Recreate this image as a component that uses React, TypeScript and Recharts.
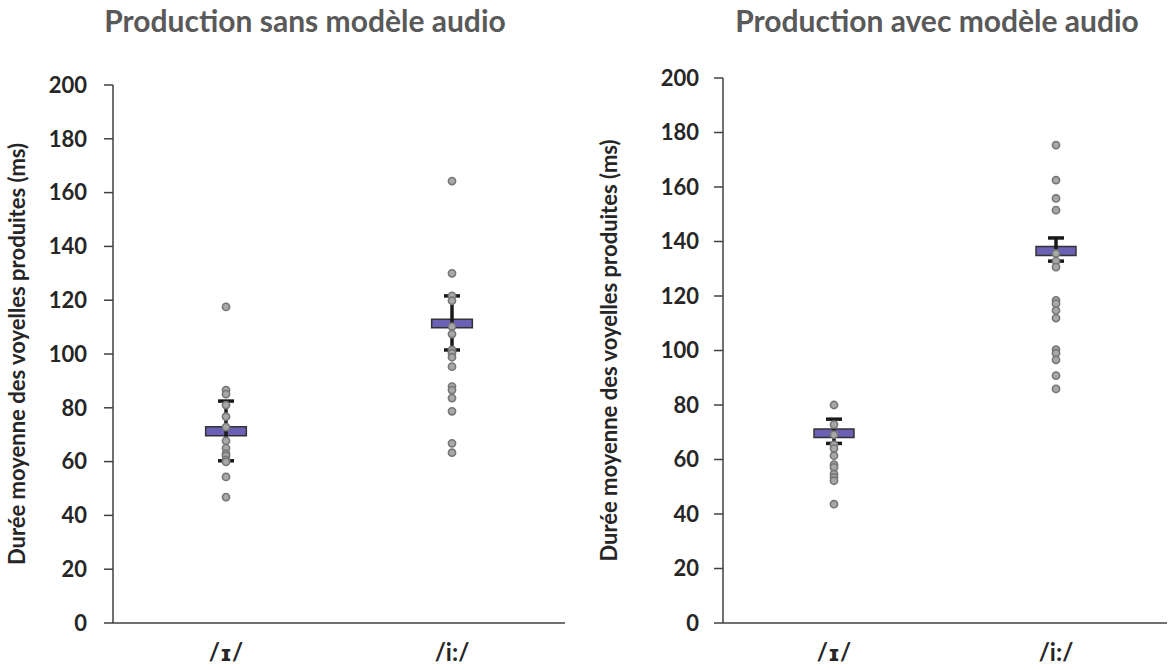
import React from 'react';
import {
  ComposedChart,
  Scatter,
  ErrorBar,
  ReferenceArea,
  XAxis,
  YAxis,
  Label,
} from 'recharts';

// categories and tick labels
const categories = ['/ɪ/', '/i:/'];
const yTicks = [0, 20, 40, 60, 80, 100, 120, 140, 160, 180, 200];

// "Production sans modèle audio" – individual speakers
const sansShortPoints = [117.5, 86.6, 85.1, 81, 76.7, 72.8, 67.7, 65, 63, 62.2, 60.6, 59.9, 54.3, 46.8];
const sansLongPoints = [164.3, 130, 121.6, 119.8, 110.2, 107.4, 101.5, 100.3, 98.8, 95.3, 87.9, 86.6, 83.6, 78.7, 66.8, 63.3];
// summary: mean, box low/high, whisker low/high (per category)
const sansMeans = [71.3, 111.3];
const sansBoxLow = [69.6, 109.8];
const sansBoxHigh = [73, 112.9];
const sansWhiskerLow = [60.3, 101.5];
const sansWhiskerHigh = [82.5, 121.6];

// "Production avec modèle audio"
const avecShortPoints = [80.0, 72.8, 69.1, 65.4, 64.0, 61.4, 58.1, 57.1, 54.7, 53.4, 52.2, 43.6];
const avecLongPoints = [175.4, 162.5, 155.8, 151.5, 135.6, 132.8, 130.6, 118.4, 117.2, 114.7, 111.9, 100.3, 99, 96.6, 90.8, 85.9];
const avecMeans = [69.7, 136.5];
const avecBoxLow = [68.1, 134.9];
const avecBoxHigh = [71.2, 138.2];
const avecWhiskerLow = [65.9, 132.8];
const avecWhiskerHigh = [74.8, 141.3];

const BOX_HALF = 0.09;
const FONT = 'Lato, "Open Sans", sans-serif';
const TEXT = '#262626';

const toPoints = (vals: number[], idx: number) => vals.map((v) => ({ x: idx + 0.5, y: v }));

const Dot = (props: any) => {
  const { cx, cy } = props;
  if (cx == null || cy == null) return <g />;
  return <circle cx={cx} cy={cy} r={3.6} fill="#a8a8a8" stroke="#767676" strokeWidth={1.6} />;
};

// x tick: the small-capital ɪ is missing in Lato, so draw it in DejaVu Sans
const CatTick = (props: any) => {
  const { x, y, payload } = props;
  const label = categories[Math.floor(payload.value)];
  return (
    <text x={x} y={y} dy={38} textAnchor="middle" fill={TEXT} fontSize={24} fontWeight={700} fontFamily={FONT}>
      {label.split('').map((ch: string, i: number) =>
        ch === 'ɪ' ? (
          <tspan key={i} fontFamily='"DejaVu Sans"' fontSize={22}>{ch}</tspan>
        ) : (
          <tspan key={i}>{ch}</tspan>
        )
      )}
    </text>
  );
};

interface PanelProps {
  width: number;
  height: number;
  margin: { top: number; right: number; left: number; bottom: number };
  yAxisWidth: number;
  tickMargin: number;
  shortPts: number[];
  longPts: number[];
  means: number[];
  boxLow: number[];
  boxHigh: number[];
  wLow: number[];
  wHigh: number[];
  labelDx: number;
}

const Panel: React.FC<PanelProps> = (p) => {
  const summary = p.means.map((m, i) => ({
    x: i + 0.5,
    y: m,
    err: [m - p.wLow[i], p.wHigh[i] - m],
  }));
  return (
    <ComposedChart width={p.width} height={p.height} margin={p.margin}>
      <XAxis
        type="number"
        dataKey="x"
        domain={[0, 2]}
        ticks={[0.5, 1.5]}
        tickLine={false}
        tickSize={0}
        tickMargin={0}
        height={47}
        stroke="#404040"
        strokeWidth={1.5}
        tick={<CatTick />}
        allowDataOverflow
      />
      <YAxis
        type="number"
        dataKey="y"
        domain={[0, 200]}
        ticks={yTicks}
        width={p.yAxisWidth}
        tickSize={9}
        tickMargin={p.tickMargin}
        stroke="#404040"
        strokeWidth={1.5}
        tick={{ fill: TEXT, fontSize: 22, fontWeight: 700, fontFamily: FONT }}
      >
        <Label
          value="Durée moyenne des voyelles produites (ms)"
          angle={-90}
          position="insideLeft"
          dx={p.labelDx}
          style={{ textAnchor: 'middle', fill: TEXT, fontSize: 22, fontWeight: 700, fontFamily: FONT }}
        />
      </YAxis>
      <Scatter data={summary} shape={() => <g />} isAnimationActive={false}>
        <ErrorBar dataKey="err" direction="y" width={8} strokeWidth={3.5} stroke="#1a1a1a" />
      </Scatter>
      {p.means.map((_, i) => (
        <ReferenceArea
          key={i}
          x1={i + 0.5 - BOX_HALF}
          x2={i + 0.5 + BOX_HALF}
          y1={p.boxLow[i]}
          y2={p.boxHigh[i]}
          fill="#6a60b4"
          fillOpacity={1}
          stroke="#333333"
          strokeWidth={1.5}
        />
      ))}
      <Scatter data={toPoints(p.shortPts, 0)} shape={Dot} isAnimationActive={false} />
      <Scatter data={toPoints(p.longPts, 1)} shape={Dot} isAnimationActive={false} />
    </ComposedChart>
  );
};

const titleStyle: React.CSSProperties = {
  position: 'absolute',
  top: 2,
  fontFamily: FONT,
  fontWeight: 700,
  fontSize: 30,
  color: '#595959',
  whiteSpace: 'nowrap',
  transform: 'translateX(-50%)',
};

export default function App() {
  return (
    <div style={{ position: 'absolute', left: 0, top: 0, width: 1169, height: 670, background: '#fff', overflow: 'hidden' }}>
      <div style={{ ...titleStyle, left: 305 }}>Production sans modèle audio</div>
      <div style={{ ...titleStyle, left: 937 }}>Production avec modèle audio</div>
      <div style={{ position: 'absolute', left: 0, top: 0 }}>
        <Panel
          width={590}
          height={670}
          margin={{ top: 85, right: 25, left: 0, bottom: 0 }}
          yAxisWidth={113}
          tickMargin={17}
          shortPts={sansShortPoints}
          longPts={sansLongPoints}
          means={sansMeans}
          boxLow={sansBoxLow}
          boxHigh={sansBoxHigh}
          wLow={sansWhiskerLow}
          wHigh={sansWhiskerHigh}
          labelDx={12}
        />
      </div>
      <div style={{ position: 'absolute', left: 590, top: 0 }}>
        <Panel
          width={579}
          height={670}
          margin={{ top: 78, right: 2, left: 0, bottom: 0 }}
          yAxisWidth={133}
          tickMargin={15}
          shortPts={avecShortPoints}
          longPts={avecLongPoints}
          means={avecMeans}
          boxLow={avecBoxLow}
          boxHigh={avecBoxHigh}
          wLow={avecWhiskerLow}
          wHigh={avecWhiskerHigh}
          labelDx={14}
        />
      </div>
    </div>
  );
}
